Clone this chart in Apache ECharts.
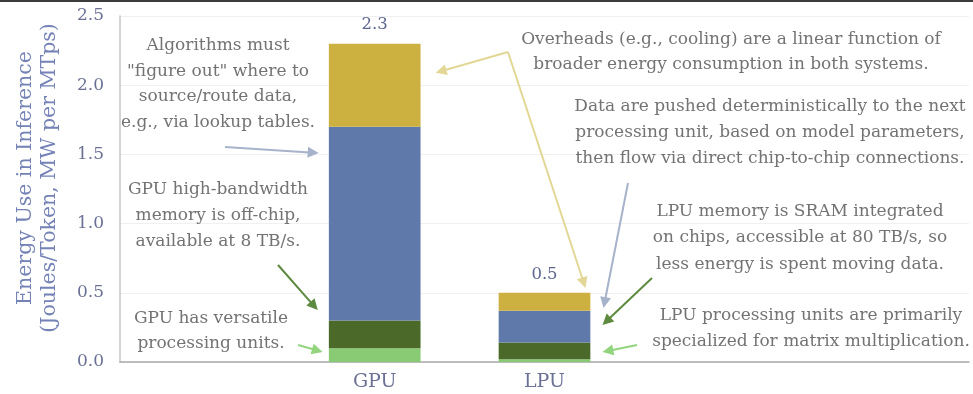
<!DOCTYPE html>
<html>
<head>
<meta charset="utf-8">
<script src="https://cdn.jsdelivr.net/npm/echarts@6/dist/echarts.min.js"></script>
<style>
  html, body { margin: 0; padding: 0; background: #ffffff; }
  #chart { width: 973px; height: 394px; }
</style>
</head>
<body>
<div id="chart"></div>
<script>
// Energy per token, split by where it is spent (Joules/Token, MW per MTps)
const categories = ['', 'GPU', 'LPU', '', ''];
const processingUnits = [null, 0.10, 0.02, null, null];
const memoryAccess = [null, 0.20, 0.12, null, null];
const dataRouting = [null, 1.40, 0.23, null, null];
const overheads = [null, 0.60, 0.13, null, null];
const yTickValues = [0, 0.5, 1.0, 1.5, 2.0, 2.5];

const SERIF = "'DejaVu Serif', 'Liberation Serif', serif";
const NOTE_COLOR = '#737373';
const AXIS_TEXT = '#6b7194';

const colors = {
  processing: '#88cb74',
  memory: '#4b6a29',
  routing: '#6079ab',
  overheads: '#ccb040'
};

const stacks = [processingUnits, memoryAccess, dataRouting, overheads];
function stackTotal(i) {
  let s = 0;
  stacks.forEach(arr => { if (arr[i] != null) s += arr[i]; });
  return s;
}

function barSeries(name, data, color, withTotal) {
  const s = {
    name: name,
    type: 'bar',
    stack: 'energy',
    data: data,
    barWidth: '54%',
    itemStyle: { color: color },
    emphasis: { disabled: true }
  };
  if (withTotal) {
    s.label = {
      show: true,
      position: 'top',
      distance: 10,
      color: '#5d6690',
      fontFamily: SERIF,
      fontSize: 16.5,
      formatter: p => stackTotal(p.dataIndex).toFixed(1)
    };
  }
  return s;
}

const chart = echarts.init(document.getElementById('chart'), null, { renderer: 'canvas' });

chart.setOption({
  animation: false,
  backgroundColor: '#ffffff',
  grid: { left: 120, right: 4, top: 16, bottom: 32, containLabel: false, outerBoundsMode: 'none' },
  xAxis: {
    type: 'category',
    data: categories,
    axisTick: { show: false },
    axisLine: { lineStyle: { color: '#a9a9a9', width: 1.5 } },
    axisLabel: { color: AXIS_TEXT, fontFamily: SERIF, fontSize: 19, margin: 11 }
  },
  yAxis: {
    type: 'value',
    min: yTickValues[0],
    max: yTickValues[yTickValues.length - 1],
    interval: 0.5,
    axisLine: { show: true, lineStyle: { color: '#c4c4c4', width: 1.5 } },
    axisTick: { show: false },
    splitLine: { lineStyle: { color: '#f0f0f0', width: 1 } },
    axisLabel: {
      color: AXIS_TEXT,
      fontFamily: SERIF,
      fontSize: 17,
      margin: 16,
      formatter: v => v.toFixed(1)
    },
    name: 'Energy Use in Inference\n(Joules/Token, MW per MTps)',
    nameLocation: 'middle',
    nameRotate: 90,
    nameGap: 59,
    nameTextStyle: {
      color: '#7482b6',
      fontFamily: SERIF,
      fontSize: 20.5,
      lineHeight: 23.5,
      padding: [0, 0, 0, 22]
    }
  },
  series: [
    barSeries('Processing units', processingUnits, colors.processing, false),
    barSeries('Memory', memoryAccess, colors.memory, false),
    barSeries('Data routing', dataRouting, colors.routing, false),
    barSeries('Overheads', overheads, colors.overheads, true)
  ]
});

// Explanatory notes around the bars
const notes = [
  { x: 218, y: 84, lh: 25.5, text: 'Algorithms must\n"figure out" where to\nsource/route data,\ne.g., via lookup tables.' },
  { x: 218, y: 216, lh: 26, text: 'GPU high-bandwidth\nmemory is off-chip,\navailable at 8 TB/s.' },
  { x: 211, y: 331, lh: 25, text: 'GPU has versatile\nprocessing units.' },
  { x: 731, y: 52, lh: 25, text: 'Overheads (e.g., cooling) are a linear function of\nbroader energy consumption in both systems.' },
  { x: 770, y: 133, lh: 26, text: 'Data are pushed deterministically to the next\nprocessing unit, based on model parameters,\nthen flow via direct chip-to-chip connections.' },
  { x: 800, y: 238, lh: 26.5, text: 'LPU memory is SRAM integrated\non chips, accessible at 80 TB/s, so\nless energy is spent moving data.' },
  { x: 811, y: 329, lh: 26, text: 'LPU processing units are primarily\nspecialized for matrix multiplication.' }
];

// Arrows: tail in pixels, tip anchored to [category index, value] plus a pixel offset
const arrows = [
  { from: [225, 147], cat: 1, value: 1.51, dx: -56, color: '#a6b3ca' },
  { from: [278, 265], cat: 1, value: 0.375, dx: -57, color: '#5d8a3f' },
  { from: [298, 345], cat: 1, value: 0.072, dx: -52, color: '#93d47f' },
  { from: [508, 52], cat: 1, value: 2.09, dx: 61, color: '#e3d795' },
  { from: [508, 52], cat: 2, value: 0.534, dx: 41, color: '#e3d795' },
  { from: [628, 183], cat: 2, value: 0.39, dx: 59, color: '#a6b3ca' },
  { from: [652, 278], cat: 2, value: 0.267, dx: 58, color: '#5d8a3f' },
  { from: [637, 345], cat: 2, value: 0.072, dx: 58, color: '#93d47f' }
];

function arrowGraphics(x1, y1, x2, y2, color) {
  const dx = x2 - x1, dy = y2 - y1;
  const len = Math.sqrt(dx * dx + dy * dy);
  const ux = dx / len, uy = dy / len;
  const headLen = 11, headHalf = 5.5;
  const bx = x2 - ux * headLen, by = y2 - uy * headLen;
  const px = -uy, py = ux;
  return [
    {
      type: 'line',
      shape: { x1: x1, y1: y1, x2: bx + ux * 2, y2: by + uy * 2 },
      style: { stroke: color, lineWidth: 2 },
      silent: true
    },
    {
      type: 'polygon',
      shape: { points: [[x2, y2], [bx + px * headHalf, by + py * headHalf], [bx - px * headHalf, by - py * headHalf]] },
      style: { fill: color },
      silent: true
    }
  ];
}

const graphics = [
  { type: 'rect', shape: { x: 0, y: 0, width: 973, height: 2 }, style: { fill: '#3c3c3c' }, silent: true }
];

notes.forEach(n => {
  graphics.push({
    type: 'text',
    silent: true,
    style: {
      text: n.text,
      x: n.x,
      y: n.y,
      align: 'center',
      verticalAlign: 'middle',
      fill: NOTE_COLOR,
      fontFamily: SERIF,
      fontSize: 17,
      lineHeight: n.lh
    }
  });
});

arrows.forEach(a => {
  const tip = chart.convertToPixel({ gridIndex: 0 }, [a.cat, a.value]);
  graphics.push(...arrowGraphics(a.from[0], a.from[1], tip[0] + a.dx, tip[1], a.color));
});

chart.setOption({ graphic: graphics });
</script>
</body>
</html>
